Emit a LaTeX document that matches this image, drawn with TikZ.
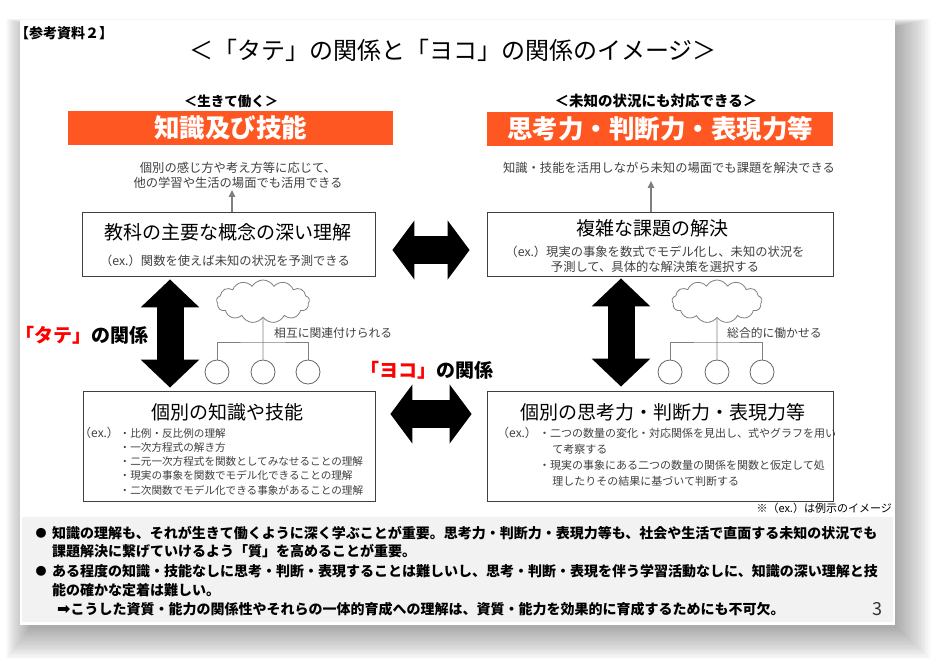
\documentclass[tikz,border=0pt]{standalone}
\usepackage{fontspec}
\setmainfont{Noto Sans CJK JP}
\newfontfamily\dejavu{DejaVu Sans}
\usepackage{xcolor}
\usetikzlibrary{arrows.meta, shapes.symbols}
\definecolor{banner}{RGB}{255,87,34}
\definecolor{inkgray}{RGB}{64,64,64}
\definecolor{wiregray}{RGB}{128,128,128}
\definecolor{bandgray}{RGB}{242,242,242}
\definecolor{kred}{RGB}{255,0,0}

\begin{document}
\begin{tikzpicture}[
  x=1pt, y=-1pt,
  every node/.style={inner sep=1pt},
  heading/.style={fill=banner, text=white, font=\bfseries\fontsize{25.5}{28}\selectfont,
                  minimum height=34, inner sep=0pt},
  panel/.style={draw=inkgray, fill=white, line width=0.8pt},
  ptitle/.style={font=\fontsize{19}{22}\selectfont},
  note/.style={text=inkgray, font=\fontsize{12.3}{15}\selectfont, align=center},
  exlabel/.style={font=\fontsize{12}{14}\selectfont, text=inkgray, anchor=west, inner sep=0pt},
  exlist/.style={text=inkgray, anchor=west, inner sep=0pt, align=left},
  tie/.style={font=\bfseries\fontsize{19}{22}\selectfont},
  arr/.style={-{Triangle[length=7pt, width=6.5pt]}, line width=1.3pt, wiregray},
  fatv/.style={line width=27pt, {Triangle[length=28pt, width=57pt]}-{Triangle[length=28pt, width=57pt]}},
  fath/.style={line width=28pt, {Triangle[length=22pt, width=58pt]}-{Triangle[length=22pt, width=58pt]}},
  puff/.style={cloud, cloud puffs=13, cloud puff arc=120, cloud ignores aspect, draw=wiregray,
               line width=0.8pt, fill=white, minimum width=93, minimum height=43, inner sep=0pt},
  ball/.style={circle, draw=wiregray!80!black, line width=0.8pt, minimum size=24, inner sep=0pt},
  wire/.style={wiregray, line width=0.9pt},
  bullet/.style={anchor=west, inner sep=0pt, font=\bfseries\fontsize{14}{16}\selectfont},
]
\useasboundingbox (0,0) rectangle (936,667);
% slide and its shadow
\foreach \s in {0,...,24}
  \fill[black, opacity=0.015] (30-\s, 26-0.3*\s) rectangle (897+1.4*\s, 628+1.3*\s);
\fill[white] (20,20) rectangle (895,625);
\fill[bandgray] (22,517) rectangle (893,622);

\node[font=\bfseries\fontsize{14}{16}\selectfont, anchor=west, inner sep=0pt] (shiryo) at (15,33) {【参考資料２】};
\node[font=\fontsize{24}{28}\selectfont] (title) at (453,50) {＜「タテ」の関係と「ヨコ」の関係のイメージ＞};

% headings
\node[font=\bfseries\fontsize{13.5}{16}\selectfont] (ikite) at (231,101) {＜生きて働く＞};
\node[heading, minimum width=325] (chishiki) at (230.5,128) {知識及び技能};
\node[font=\bfseries\fontsize{14.5}{16}\selectfont] (michi) at (656,101) {＜未知の状況にも対応できる＞};
\node[heading, minimum width=346] (shiko) at (660,129) {思考力・判断力・表現力等};

\node[note] (note1) at (238,175.5) {個別の感じ方や考え方等に応じて、\\他の学習や生活の場面でも活用できる};
\node[note] (note2) at (669,168) {知識・技能を活用しながら未知の場面でも課題を解決できる};

% panels
\node[panel, minimum width=293, minimum height=64] (gainen) at (228.5,244) {};
\node[panel, minimum width=346, minimum height=64] (kadai) at (660,244) {};
\node[panel, minimum width=292, minimum height=110] (kobetu) at (229,446) {};
\node[panel, minimum width=346, minimum height=110] (kobetus) at (660,446) {};

\node[ptitle] (gainenT) at (228,232) {教科の主要な概念の深い理解};
\node[note] (gainenX) at (225,261) {（ex.）関数を使えば未知の状況を予測できる};
\node[ptitle] (kadaiT) at (652,228) {複雑な課題の解決};
\node[note] (kadaiX) at (655,259.5) {（ex.）現実の事象を数式でモデル化し、未知の状況を\\予測して、具体的な解決策を選択する};

\node[ptitle] (kobetuT) at (227,412) {個別の知識や技能};
\node[exlabel] (kobetuE) at (79,433) {（ex.）};
\node[exlist, font=\fontsize{10.6}{14.25}\selectfont] (kobetuL) at (119.5,461.5)
  {・比例・反比例の理解\\・一次方程式の解き方\\・二元一次方程式を関数としてみなせることの理解\\・現実の事象を関数でモデル化できることの理解\\・二次関数でモデル化できる事象があることの理解};

\node[ptitle] (kobetusT) at (663,412) {個別の思考力・判断力・表現力等};
\node[exlabel] (kobetusE) at (497,433) {（ex.）};
\node[exlist, font=\fontsize{11}{16}\selectfont] (kobetusL) at (539,457)
  {・二つの数量の変化・対応関係を見出し、式やグラフを用い\\\hspace*{1.2em}て考察する\\・現実の事象にある二つの数量の関係を関数と仮定して処\\\hspace*{1.2em}理したりその結果に基づいて判断する};

\node[font=\fontsize{11}{13}\selectfont, anchor=east, inner sep=0pt] (rei) at (892,508) {※（ex.）は例示のイメージ};

% thin arrows
\coordinate (up1) at (232,0);
\coordinate (up2) at (651,0);
\draw[arr] (gainen.north -| up1) -- (note1.south -| up1);
\draw[arr, shorten >=6pt] (kadai.north -| up2) -- (note2.south -| up2);

% fat arrows
\coordinate (colL) at (170,0);
\coordinate (colR) at (621,0);
\coordinate (rowT) at (0,250);
\coordinate (rowB) at (0,414);
\draw[fatv, shorten <=3pt, shorten >=3pt] (gainen.south -| colL) -- (kobetu.north -| colL);
\draw[fatv, shorten <=2pt, shorten >=4pt] (kadai.south -| colR) -- (kobetus.north -| colR);
\draw[fath, shorten <=17pt, shorten >=17pt] (gainen.east |- rowT) -- (kadai.west |- rowT);
\draw[fath, shorten <=15pt, shorten >=15pt] (kobetu.east |- rowB) -- (kobetus.west |- rowB);

\node[tie] (tate) at (82,335) {\textcolor{kred}{「タテ」}の関係};
\node[tie] (yoko) at (427,370) {\textcolor{kred}{「ヨコ」}の関係};

% clouds and circles
\node[puff] (cloudL) at (263,301.5) {};
\node[ball] (bL1) at (217,372) {};
\node[ball] (bL2) at (263,372) {};
\node[ball] (bL3) at (308,372) {};
\coordinate (jL) at (263,342);
\draw[wire] (cloudL.south) -- (bL2.north);
\draw[wire] (bL1.north) |- (jL) -| (bL3.north);
\node[note, anchor=west, font=\fontsize{11.8}{14}\selectfont] (soukan) at (273,333) {相互に関連付けられる};

\node[puff, minimum width=90] (cloudR) at (717,301.5) {};
\node[ball] (bR1) at (670,372) {};
\node[ball] (bR2) at (717,372) {};
\node[ball] (bR3) at (762,372) {};
\coordinate (jR) at (717,342);
\draw[wire] (cloudR.south) -- (bR2.north);
\draw[wire] (bR1.north) |- (jR) -| (bR3.north);
\node[note, anchor=west, font=\fontsize{11.8}{14}\selectfont] (sougou) at (726,333) {総合的に働かせる};

% summary band
\node[font=\fontsize{11}{12}\selectfont] (dot1) at (41,533) {●};
\node[bullet] (line1) at (52,533) {知識の理解も、それが生きて働くように深く学ぶことが重要。思考力・判断力・表現力等も、社会や生活で直面する未知の状況でも};
\node[bullet] (line2) at (52,551) {課題解決に繋げていけるよう「質」を高めることが重要。};
\node[font=\fontsize{11}{12}\selectfont] (dot2) at (41,571) {●};
\node[bullet] (line3) at (52,571) {ある程度の知識・技能なしに思考・判断・表現することは難しいし、思考・判断・表現を伴う学習活動なしに、知識の深い理解と技};
\node[bullet] (line4) at (52,590) {能の確かな定着は難しい。};
\node[bullet] (line5) at (57,609) {{\dejavu\fontsize{16}{16}\selectfont ➡}こうした資質・能力の関係性やそれらの一体的育成への理解は、資質・能力を効果的に育成するためにも不可欠。};
\node[font=\fontsize{18}{20}\selectfont, text=black!80] (pageno) at (877,609) {3};
\end{tikzpicture}
\end{document}
